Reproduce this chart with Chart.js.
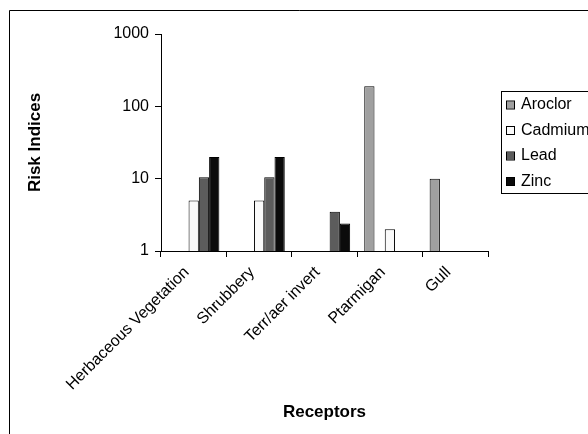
<!DOCTYPE html>
<html>
<head>
<meta charset="utf-8">
<script src="https://cdn.jsdelivr.net/npm/chart.js@4"></script>
<style>
  html, body { margin: 0; padding: 0; background: #fff; overflow: hidden; }
  #wrap { width: 588px; height: 434px; }
</style>
</head>
<body>
<div id="wrap"><canvas id="c" width="588" height="434"></canvas></div>
<script>
// receptors on the x axis
const categories = ['Herbaceous Vegetation', 'Shrubbery', 'Terr/aer invert', 'Ptarmigan', 'Gull'];

// risk indices per chemical (null = no bar)
const aroclor = [null, null, null, 190, 10];
const cadmium = [5, 5, null, 2, null];
const lead = [10.5, 10.5, 3.5, null, null];
const zinc = [20, 20, 2.4, null, null];
// the original has an empty series slot between Aroclor and Cadmium
const blank = [null, null, null, null, null];

const yTicks = [1, 10, 100, 1000];

const legendItems = [
  { label: 'Aroclor', color: '#a0a0a0' },
  { label: 'Cadmium', color: '#fafafa' },
  { label: 'Lead', color: '#5c5c5c' },
  { label: 'Zinc', color: '#0b0b0b' }
];

const FONT = "'Liberation Sans', Arial, sans-serif";

// outer frame + legend box, drawn like the excel chart
const extras = {
  id: 'extras',
  beforeDraw(chart) {
    const ctx = chart.ctx;
    ctx.save();
    ctx.fillStyle = '#fff';
    ctx.fillRect(0, 0, chart.width, chart.height);
    ctx.strokeStyle = '#000';
    ctx.lineWidth = 1;
    ctx.beginPath();
    ctx.moveTo(9.5, chart.height + 5);
    ctx.lineTo(9.5, 10.5);
    ctx.lineTo(chart.width + 5, 10.5);
    ctx.stroke();
    ctx.restore();
  },
  afterDraw(chart) {
    const ctx = chart.ctx;
    ctx.save();
    ctx.strokeStyle = '#000';
    ctx.lineWidth = 1;
    ctx.strokeRect(501.5, 91.5, 140, 102);
    ctx.font = '16px ' + FONT;
    ctx.textBaseline = 'middle';
    legendItems.forEach((it, i) => {
      const y = 105 + i * 25.5;
      ctx.fillStyle = it.color;
      ctx.fillRect(507, y - 3.5, 7, 7);
      ctx.strokeRect(506.5, y - 4, 8, 8);
      ctx.fillStyle = '#000';
      ctx.fillText(it.label, 521, y);
    });
    ctx.restore();
  }
};

function ds(label, data, color) {
  return {
    label: label,
    data: data,
    backgroundColor: color,
    borderColor: '#000',
    borderWidth: 1,
    categoryPercentage: 0.785,
    barPercentage: 1.0
  };
}

new Chart(document.getElementById('c'), {
  type: 'bar',
  data: {
    labels: categories,
    datasets: [
      ds('Aroclor', aroclor, '#a0a0a0'),
      ds('', blank, '#ffffff'),
      ds('Cadmium', cadmium, '#fafafa'),
      ds('Lead', lead, '#5c5c5c'),
      ds('Zinc', zinc, '#0b0b0b')
    ]
  },
  options: {
    responsive: false,
    animation: false,
    layout: { padding: { top: 34, right: 100, left: 0, bottom: 0 } },
    plugins: {
      legend: { display: false },
      tooltip: { enabled: false }
    },
    scales: {
      x: {
        grid: { drawOnChartArea: false, drawTicks: true, tickLength: 6, color: '#000', offset: true },
        border: { display: true, color: '#000', width: 1 },
        ticks: {
          color: '#000',
          font: { family: FONT, size: 16 },
          minRotation: 45,
          maxRotation: 45,
          autoSkip: false,
          padding: 6,
          labelOffset: -7
        },
        title: {
          display: true,
          text: 'Receptors',
          color: '#000',
          font: { family: FONT, size: 17, weight: 'bold' },
          padding: { top: 0, bottom: 11 }
        },
        afterFit(scale) { scale.height = 183; }
      },
      y: {
        type: 'logarithmic',
        min: 1,
        max: 1000,
        grid: { drawOnChartArea: false, drawTicks: true, tickLength: 6, color: '#000' },
        border: { display: true, color: '#000', width: 1 },
        afterBuildTicks(scale) {
          scale.ticks = yTicks.map(v => ({ value: v }));
        },
        ticks: {
          color: '#000',
          font: { family: FONT, size: 16 },
          padding: 6,
          callback: v => String(v)
        },
        title: {
          display: true,
          text: 'Risk Indices',
          color: '#000',
          font: { family: FONT, size: 17, weight: 'bold' },
          padding: { top: 25, bottom: 0 }
        },
        afterFit(scale) { scale.width = 161; }
      }
    }
  },
  plugins: [extras]
});
</script>
</body>
</html>
